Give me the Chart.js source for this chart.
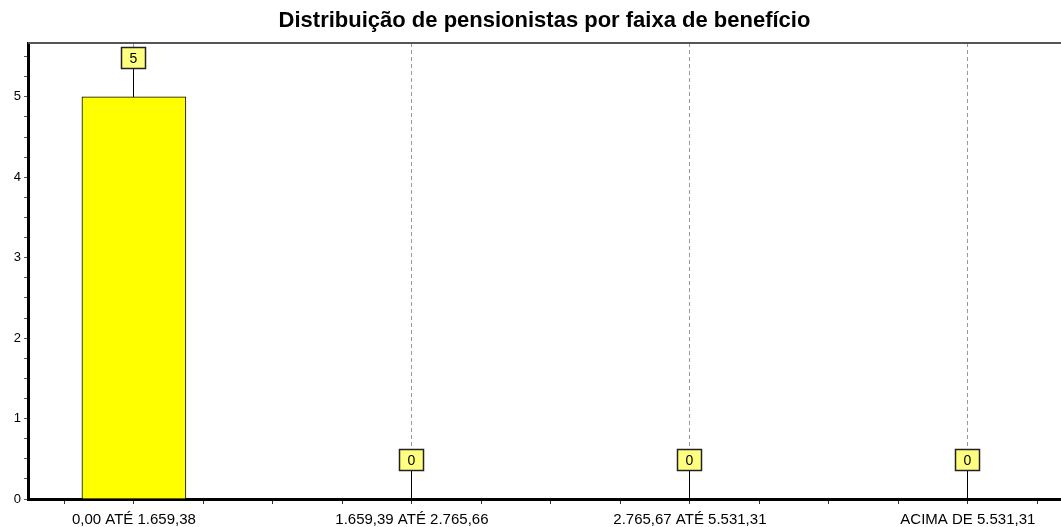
<!DOCTYPE html>
<html>
<head>
<meta charset="utf-8">
<script src="https://cdn.jsdelivr.net/npm/chart.js@4.4.1/dist/chart.umd.min.js"></script>
<style>
  html, body { margin: 0; padding: 0; background: #fff; }
  #wrap { width: 1061px; height: 527px; }
</style>
</head>
<body>
<div id="wrap"><canvas id="c" width="1061" height="527"></canvas></div>
<script>
const chartTitle = 'Distribuição de pensionistas por faixa de benefício';
const categories = ['0,00 ATÉ 1.659,38', '1.659,39 ATÉ 2.765,66', '2.765,67 ATÉ 5.531,31', 'ACIMA DE 5.531,31'];
const values = [5, 0, 0, 0];
const yTickLabels = ['0', '1', '2', '3', '4', '5'];

const FONT = '"Liberation Sans", Arial, sans-serif';

const labelBoxes = {
  id: 'labelBoxes',
  afterDatasetsDraw(chart) {
    const ctx = chart.ctx;
    const meta = chart.getDatasetMeta(0);
    ctx.save();
    ctx.setLineDash([]);
    meta.data.forEach((bar, i) => {
      const x = Math.round(bar.x - 0.5) + 0.5;
      const y = Math.round(bar.y);
      const gap = 28, w = 25, h = 22;
      ctx.strokeStyle = '#000';
      ctx.lineWidth = 1;
      ctx.beginPath();
      ctx.moveTo(x, y);
      ctx.lineTo(x, y - gap);
      ctx.stroke();
      const bx = Math.round(x - w / 2), by = y - gap - h;
      ctx.fillStyle = '#ffff80';
      ctx.fillRect(bx, by, w, h);
      ctx.lineWidth = 1.5;
      ctx.strokeStyle = '#222';
      ctx.strokeRect(bx + 0.5, by + 0.5, w - 1, h - 1);
      ctx.fillStyle = '#000';
      ctx.font = '14px ' + FONT;
      ctx.textAlign = 'center';
      ctx.textBaseline = 'middle';
      ctx.fillText(String(values[i]), x, by + h / 2 + 1);
    });
    ctx.restore();
  }
};

const topBorder = {
  id: 'topBorder',
  afterDraw(chart) {
    const {ctx, chartArea} = chart;
    ctx.save();
    ctx.setLineDash([]);
    ctx.strokeStyle = '#555';
    ctx.lineWidth = 2;
    ctx.beginPath();
    ctx.moveTo(chartArea.left, chartArea.top);
    ctx.lineTo(chartArea.right, chartArea.top);
    ctx.stroke();
    ctx.restore();
  }
};

function quarterTicks(scale) {
  const t = [];
  const start = Math.ceil(scale.min * 4) / 4;
  for (let v = start; v <= scale.max + 1e-9; v += 0.25) t.push({value: Math.round(v * 100) / 100});
  scale.ticks = t;
}
const isInt = v => Math.abs(v - Math.round(v)) < 1e-6;

new Chart(document.getElementById('c'), {
  type: 'bar',
  data: {
    datasets: [{
      data: values.map((v, i) => ({x: i, y: v})),
      backgroundColor: '#ffff00',
      borderColor: '#000',
      borderWidth: 1,
      barThickness: 104
    }]
  },
  options: {
    responsive: false,
    animation: false,
    devicePixelRatio: 1,
    layout: { padding: { left: 0, right: 0, top: 0, bottom: 0 } },
    plugins: {
      legend: { display: false },
      tooltip: { enabled: false },
      title: {
        display: true,
        fullSize: false,
        text: chartTitle,
        color: '#000',
        font: { family: FONT, size: 22, weight: 'bold', lineHeight: 1.2 },
        padding: { top: 8, bottom: 8.6 }
      }
    },
    scales: {
      x: {
        type: 'linear',
        offset: false,
        min: -0.381,
        max: 3.335,
        afterBuildTicks: quarterTicks,
        afterFit(s) { s.height = 28; },
        ticks: {
          autoSkip: false,
          maxRotation: 0,
          padding: 7,
          color: '#000',
          font: { family: FONT, size: 15 },
          callback: v => isInt(v) ? categories[Math.round(v)] : ''
        },
        grid: {
          offset: false,
          drawOnChartArea: true,
          color: c => (c.tick && isInt(c.tick.value)) ? '#999' : 'rgba(0,0,0,0)',
          lineWidth: 1,
          tickLength: 5,
          tickColor: '#333',
          tickWidth: 1
        },
        border: { display: true, color: '#000', width: 3, dash: [4, 3] }
      },
      y: {
        type: 'linear',
        min: 0,
        max: 5.67,
        afterBuildTicks: quarterTicks,
        afterFit(s) { s.width = 28; },
        ticks: {
          autoSkip: false,
          padding: 3,
          color: '#000',
          font: { family: FONT, size: 13 },
          callback: v => isInt(v) ? yTickLabels[Math.round(v)] : ''
        },
        grid: {
          drawOnChartArea: false,
          tickLength: 4,
          tickColor: '#555',
          tickWidth: 1
        },
        border: { display: true, color: '#000', width: 3 }
      }
    }
  },
  plugins: [labelBoxes, topBorder]
});
</script>
</body>
</html>
